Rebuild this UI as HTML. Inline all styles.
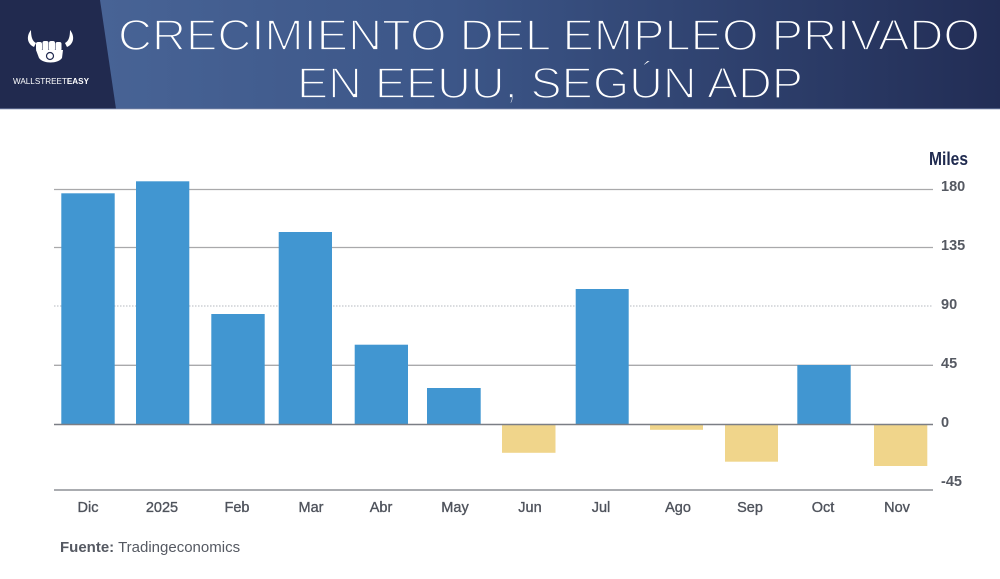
<!DOCTYPE html>
<html>
<head>
<meta charset="utf-8">
<style>
  html,body{margin:0;padding:0;background:#fff;}
  body{width:1000px;height:579px;overflow:hidden;}
  svg{display:block;}
</style>
</head>
<body>
<svg width="1000" height="579" viewBox="0 0 1000 579" xmlns="http://www.w3.org/2000/svg">
  <defs>
    <linearGradient id="hdr" gradientUnits="userSpaceOnUse" x1="0" y1="0" x2="1000" y2="0">
      <stop offset="0" stop-color="#4b6799"/>
      <stop offset="0.45" stop-color="#3c5688"/>
      <stop offset="1" stop-color="#222d55"/>
    </linearGradient>
  </defs>
  <rect x="0" y="0" width="1000" height="579" fill="#ffffff"/>
  <!-- header -->
  <rect x="0" y="0" width="1000" height="109" fill="url(#hdr)"/>
  <polygon points="0,0 100,0 116,109 0,109" fill="#212a4f"/>
  <rect x="0" y="108" width="1000" height="1.5" fill="#6f7fa3" opacity="0.6"/>

  <!-- logo -->
  <g fill="#ffffff">
    <path d="M31,30 C26,36 27,44 34,47 L36,43 C32,41 31,36 31,30 Z"/>
    <path d="M70,30 C75,36 74,44 67,47 L65,43 C69,41 70,36 70,30 Z"/>
    <rect x="36" y="42" width="6" height="9" rx="2"/>
    <rect x="42.5" y="41" width="6" height="10" rx="2"/>
    <rect x="49" y="41" width="6" height="10" rx="2"/>
    <rect x="55.5" y="42" width="6" height="9" rx="2"/>
    <path d="M36,50 L63,50 L62,58 C58,64 43,64 39,58 Z"/>
  </g>
  <circle cx="50" cy="56" r="3.5" fill="none" stroke="#212a4f" stroke-width="1.2"/>
  <text x="13" y="84" font-family="Liberation Sans, sans-serif" font-size="8.6" fill="#ffffff" textLength="76" lengthAdjust="spacingAndGlyphs">WALLSTREET<tspan font-weight="bold">EASY</tspan></text>

  <!-- title (thinned via background-coloured stroke) -->
  <g font-family="Liberation Sans, DejaVu Sans, sans-serif" font-size="44" fill="#ffffff" stroke="url(#hdr)" stroke-width="1.8" paint-order="fill stroke">
    <text x="118" y="50" textLength="862" lengthAdjust="spacingAndGlyphs">CRECIMIENTO DEL EMPLEO PRIVADO</text>
    <text x="297" y="98" textLength="506" lengthAdjust="spacingAndGlyphs">EN EEUU, SEGÚN ADP</text>
  </g>

  <!-- gridlines -->
  <g stroke="#a9a9ab" stroke-width="1.3">
    <line x1="54" y1="189.5" x2="933" y2="189.5"/>
    <line x1="54" y1="247.5" x2="933" y2="247.5"/>
    <line x1="54" y1="365.3" x2="933" y2="365.3"/>
  </g>
  <line x1="54" y1="306" x2="933" y2="306" stroke="#c3c6cc" stroke-width="1.3" stroke-dasharray="1.5 1.5"/>

  <!-- bars positive -->
  <g fill="#4196d1">
    <rect x="61.3" y="193.3" width="53.4" height="231.2"/>
    <rect x="136" y="181.3" width="53.3" height="243.2"/>
    <rect x="211.3" y="314" width="53.4" height="110.5"/>
    <rect x="278.7" y="232" width="53.3" height="192.5"/>
    <rect x="354.7" y="344.7" width="53.3" height="79.8"/>
    <rect x="427" y="388" width="53.7" height="36.5"/>
    <rect x="575.7" y="289" width="53" height="135.5"/>
    <rect x="797.3" y="365" width="53.4" height="59.5"/>
  </g>
  <!-- bars negative -->
  <g fill="#f0d58b">
    <rect x="502" y="424.5" width="53.5" height="28.3"/>
    <rect x="650" y="424.5" width="53" height="5.3"/>
    <rect x="725" y="424.5" width="53" height="37.2"/>
    <rect x="874" y="424.5" width="53.3" height="41.5"/>
  </g>

  <!-- zero & bottom axis -->
  <line x1="54" y1="424.5" x2="933" y2="424.5" stroke="#7b7e85" stroke-width="1.6"/>
  <line x1="54" y1="490" x2="933" y2="490" stroke="#8d9096" stroke-width="1.6"/>

  <!-- y labels -->
  <g font-family="Liberation Sans, sans-serif" font-size="14.5" font-weight="bold" fill="#555962">
    <text x="941" y="191">180</text>
    <text x="941" y="250">135</text>
    <text x="941" y="309">90</text>
    <text x="941" y="368">45</text>
    <text x="941" y="427">0</text>
    <text x="941" y="486">-45</text>
  </g>
  <text x="929" y="165" font-family="Liberation Sans Narrow, Liberation Sans, sans-serif" font-size="18" font-weight="bold" fill="#1f2a4f" textLength="39" lengthAdjust="spacingAndGlyphs">Miles</text>

  <!-- x labels -->
  <g font-family="Liberation Sans, sans-serif" font-size="14.5" fill="#4f535c" text-anchor="middle" stroke="#4f535c" stroke-width="0.35">
    <text x="88" y="512">Dic</text>
    <text x="162" y="512">2025</text>
    <text x="237" y="512">Feb</text>
    <text x="311" y="512">Mar</text>
    <text x="381" y="512">Abr</text>
    <text x="455" y="512">May</text>
    <text x="530" y="512">Jun</text>
    <text x="601" y="512">Jul</text>
    <text x="678" y="512">Ago</text>
    <text x="750" y="512">Sep</text>
    <text x="823" y="512">Oct</text>
    <text x="897" y="512">Nov</text>
  </g>

  <!-- source -->
  <text x="60" y="552" font-family="Liberation Sans, sans-serif" font-size="15" fill="#555962"><tspan font-weight="bold">Fuente:</tspan> Tradingeconomics</text>
</svg>
</body>
</html>
